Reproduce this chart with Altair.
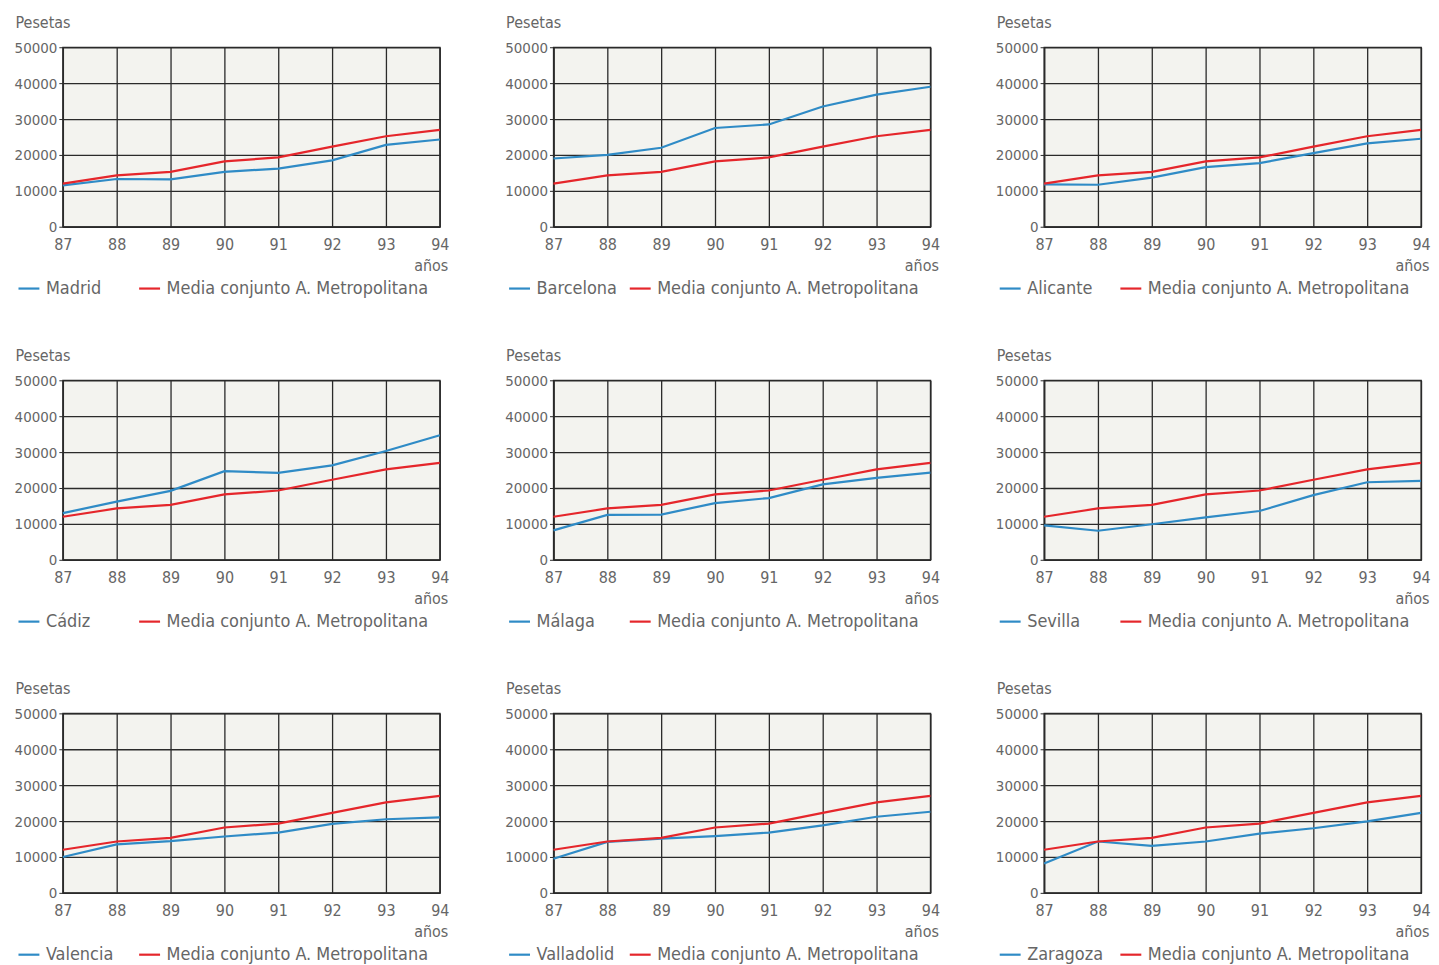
import altair as alt
import pandas as pd

years = [87, 88, 89, 90, 91, 92, 93, 94]
y_ticks = [0, 10000, 20000, 30000, 40000, 50000]

media = [12000, 14300, 15300, 18200, 19300, 22300, 25200, 27000]

madrid = [11500, 13300, 13200, 15300, 16200, 18500, 22800, 24300]
barcelona = [19000, 20000, 22000, 27500, 28500, 33500, 36800, 39000]
alicante = [11800, 11700, 13700, 16600, 17700, 20500, 23200, 24500]
cadiz = [13000, 16200, 19200, 24700, 24200, 26300, 30300, 34700]
malaga = [8200, 12500, 12600, 15800, 17200, 21000, 22800, 24300]
sevilla = [9600, 8100, 9900, 11800, 13600, 18000, 21600, 22000]
valencia = [10000, 13500, 14400, 15700, 16800, 19200, 20500, 21000]
valladolid = [9500, 14200, 15100, 15800, 16800, 18800, 21200, 22600]
zaragoza = [8200, 14300, 13100, 14300, 16500, 18000, 19900, 22300]

city_names = ["Madrid", "Barcelona", "Alicante", "Cádiz", "Málaga", "Sevilla",
              "Valencia", "Valladolid", "Zaragoza"]
city_values = [madrid, barcelona, alicante, cadiz, malaga, sevilla,
               valencia, valladolid, zaragoza]

MEDIA_LABEL = "Media conjunto A. Metropolitana"
BLUE = "#2f8bc6"
RED = "#e5262b"
FONT = "Liberation Sans Narrow, DejaVu Sans Condensed, Arial Narrow, sans-serif"
TEXT = "#666666"
GRID = "#2a2a2a"
W, H = 378, 180
LEG_Y = 230


def legend(x):
    return alt.Legend(
        orient="none", legendX=x, legendY=LEG_Y,
        direction="horizontal", title=None,
        symbolType="stroke", symbolSize=440, symbolStrokeWidth=2.2,
        labelFontSize=18, labelFont=FONT, labelColor=TEXT,
        labelLimit=400, labelOffset=5, padding=0,
    )


def panel(name, vals):
    df = pd.DataFrame({
        "año": years + years,
        "valor": vals + media,
        "serie": [name] * len(years) + [MEDIA_LABEL] * len(years),
    })
    x = alt.X(
        "año:Q",
        scale=alt.Scale(domain=[87, 94], nice=False, zero=False),
        axis=alt.Axis(values=years, format="d", title="años",
                      titleAlign="right", titleX=W + 8, titleY=44,
                      titleBaseline="alphabetic", tickSize=0, labelPadding=10,
                      labelFontSize=16, labelFlush=False),
    )
    y = alt.Y(
        "valor:Q",
        scale=alt.Scale(domain=[0, 50000], nice=False),
        axis=alt.Axis(values=y_ticks, format="d", title="Pesetas",
                      titleAngle=0, titleAlign="left", titleX=-48, titleY=-20,
                      titleBaseline="alphabetic", tickSize=4, labelPadding=2),
    )
    city_line = alt.Chart(df).transform_filter(
        alt.datum.serie == name
    ).mark_line(strokeWidth=2.2).encode(
        x=x, y=y,
        color=alt.Color("serie:N",
                        scale=alt.Scale(domain=[name], range=[BLUE]),
                        legend=legend(-46)),
    )
    media_line = alt.Chart(df).transform_filter(
        alt.datum.serie == MEDIA_LABEL
    ).mark_line(strokeWidth=2.2).encode(
        x=x, y=y,
        stroke=alt.Stroke("serie:N",
                          scale=alt.Scale(domain=[MEDIA_LABEL], range=[RED]),
                          legend=legend(75)),
    )
    return alt.layer(city_line, media_line).properties(width=W, height=H)


panels = [panel(n, v) for n, v in zip(city_names, city_values)]

chart = alt.concat(*panels, columns=3, spacing={"column": 54, "row": 48}).resolve_scale(
    color="independent", stroke="independent"
).configure_view(
    fill="#f3f3ef", stroke=GRID, strokeWidth=1.4
).configure_axis(
    grid=True, gridColor=GRID, gridWidth=1.3, gridOpacity=1,
    domainColor=GRID, domainWidth=1.4, tickColor=GRID,
    labelColor=TEXT, labelFont=FONT, labelFontSize=15,
    titleColor=TEXT, titleFont=FONT, titleFontSize=16, titleFontWeight="normal",
).properties(padding={"top": 4, "left": 5, "right": 0, "bottom": 0})

chart.save("out.html", embed_options={"renderer": "svg", "actions": False})
